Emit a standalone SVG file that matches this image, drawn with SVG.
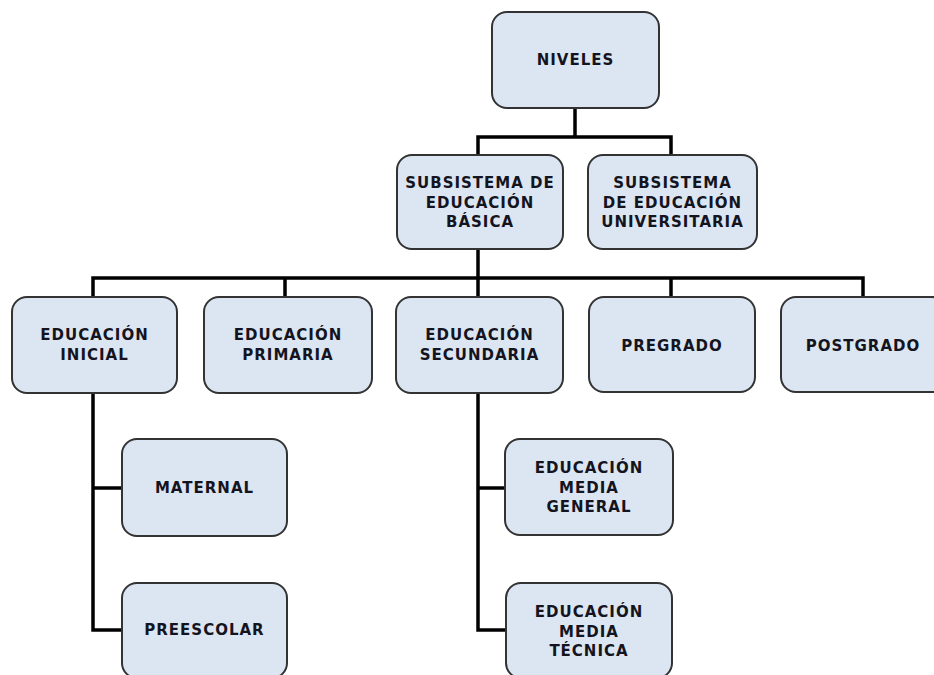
<svg xmlns="http://www.w3.org/2000/svg" width="934" height="675" viewBox="0 0 934 675">
<style>
.box{fill:#dce6f2;stroke:#333333;stroke-width:2}
.lbl{font-family:"DejaVu Sans","Liberation Sans",sans-serif;font-weight:bold;font-size:15px;letter-spacing:1px;fill:#141420;text-anchor:middle;dominant-baseline:central}
.conn{fill:none;stroke:#000000;stroke-width:3.5;stroke-linejoin:miter;stroke-linecap:square}
</style>
<rect width="934" height="675" fill="#ffffff"/>
<g id="connectors">
<path class="conn" d="M575,108 V137 M478,137 H671 M478,137 V155 M671,137 V155"/>
<path class="conn" d="M478,249 V278 M93,278 H863 M93,278 V297 M285,278 V297 M478,278 V297 M671,278 V297 M863,278 V297"/>
<path class="conn" d="M93,393 V630 H122 M93,488 H122"/>
<path class="conn" d="M478,393 V630 H505 M478,488 H505"/>
</g>
<g id="niveles">
<rect class="box" x="492" y="12" width="167" height="96" rx="15"/>
<text class="lbl" x="575.5" y="60">NIVELES</text>
</g>
<g id="subsistema-basica">
<rect class="box" x="397" y="155" width="166" height="94" rx="15"/>
<text class="lbl" x="480" y="183">SUBSISTEMA DE</text>
<text class="lbl" x="480" y="202.5">EDUCACIÓN</text>
<text class="lbl" x="480" y="222">BÁSICA</text>
</g>
<g id="subsistema-universitaria">
<rect class="box" x="588" y="155" width="169" height="94" rx="15"/>
<text class="lbl" x="672.5" y="183">SUBSISTEMA</text>
<text class="lbl" x="672.5" y="202.5">DE EDUCACIÓN</text>
<text class="lbl" x="672.5" y="222">UNIVERSITARIA</text>
</g>
<g id="educacion-inicial">
<rect class="box" x="12" y="297" width="165" height="96" rx="15"/>
<text class="lbl" x="94.5" y="335">EDUCACIÓN</text>
<text class="lbl" x="94.5" y="355">INICIAL</text>
</g>
<g id="educacion-primaria">
<rect class="box" x="204" y="297" width="168" height="96" rx="15"/>
<text class="lbl" x="288" y="335">EDUCACIÓN</text>
<text class="lbl" x="288" y="355">PRIMARIA</text>
</g>
<g id="educacion-secundaria">
<rect class="box" x="396" y="297" width="167" height="96" rx="15"/>
<text class="lbl" x="479.5" y="335">EDUCACIÓN</text>
<text class="lbl" x="479.5" y="355">SECUNDARIA</text>
</g>
<g id="pregrado">
<rect class="box" x="589" y="297" width="166" height="95" rx="15"/>
<text class="lbl" x="672" y="346">PREGRADO</text>
</g>
<g id="postgrado">
<rect class="box" x="781" y="297" width="166" height="95" rx="15"/>
<text class="lbl" x="863" y="346">POSTGRADO</text>
</g>
<g id="maternal">
<rect class="box" x="122" y="439" width="165" height="97" rx="15"/>
<text class="lbl" x="204.5" y="488">MATERNAL</text>
</g>
<g id="preescolar">
<rect class="box" x="122" y="583" width="165" height="95" rx="15"/>
<text class="lbl" x="204.5" y="630">PREESCOLAR</text>
</g>
<g id="media-general">
<rect class="box" x="505" y="439" width="168" height="96" rx="15"/>
<text class="lbl" x="589" y="468">EDUCACIÓN</text>
<text class="lbl" x="589" y="488">MEDIA</text>
<text class="lbl" x="589" y="507">GENERAL</text>
</g>
<g id="media-tecnica">
<rect class="box" x="506" y="583" width="166" height="95" rx="15"/>
<text class="lbl" x="589" y="612">EDUCACIÓN</text>
<text class="lbl" x="589" y="632">MEDIA</text>
<text class="lbl" x="589" y="651">TÉCNICA</text>
</g>
</svg>
